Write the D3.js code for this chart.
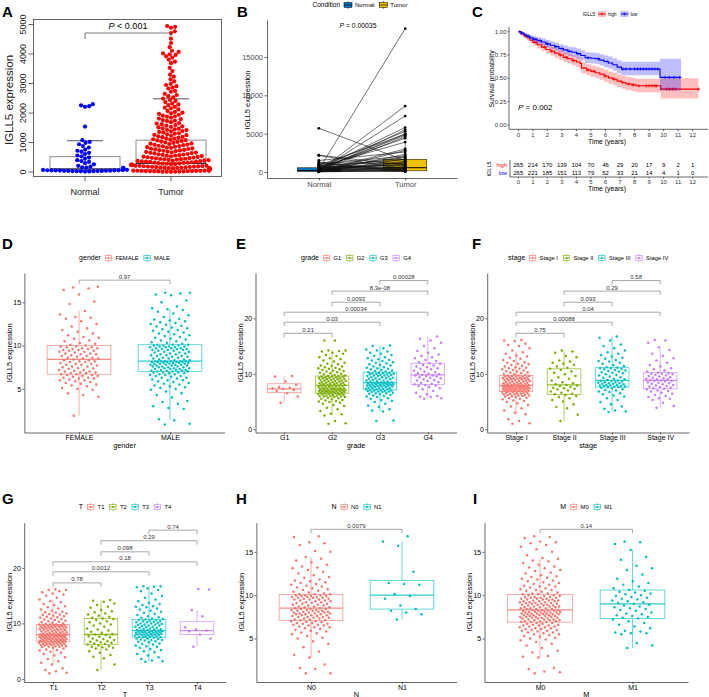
<!DOCTYPE html>
<html><head><meta charset="utf-8">
<script src="https://cdn.jsdelivr.net/npm/d3@7"></script>
<style>body{margin:0;background:#fff}</style>
</head><body>
<svg id="c" width="709" height="697"></svg>
<script>
// ---------------- DATA ----------------
// Panel A
const aCats = ["Normal","Tumor"];
const aTicks = [0,1000,2000,3000,4000,5000];
const aNormal = [2300,2260,2230,2210,1540,1080,1020,990,940,880,830,760,720,690,650,610,560,530,490,450,400,370,340,300,260,210,180,160,150,140,130,120,110,105,100,95,90,85,80,75,70,65,60,58,55,52,50,48,45,42,40,38,35,32,30,28,25,22,20,15];
const aTumor = [4950,4920,4890,4770,4710,4520,4370,4230,4110,4070,4020,3990,3970,3920,3880,3810,3740,3690,3530,3420,3300,3230,3140,3070,2990,2950,2910,2860,2830,2750,2720,2650,2610,2570,2530,2490,2440,2410,2370,2320,2290,2270,2210,2180,2160,2120,2070,2040,2010,1990,1970,1940,1910,1890,1880,1840,1810,1790,1760,1740,1730,1690,1660,1640,1620,1590,1570,1550,1530,1510,1480,1470,1450,1430,1420,1390,1380,1360,1340,1310,1300,1280,1260,1250,1230,1210,1190,1180,1160,1140,1130,1110,1090,1080,1070,1050,1030,1020,1000,990,970,960,950,930,920,910,890,880,870,860,840,830,820,800,790,780,770,750,740,730,720,710,690,680,670,660,650,640,630,610,600,590,580,570,560,550,540,530,520,510,500,490,480,470,460,450,440,435,430,420,410,400,395,390,380,370,360,355,350,340,330,320,315,310,300,290,285,280,270,260,255,250,240,235,230,220,215,210,200,195,190,185,180,175,170,165,160,155,150,145,140,135,130,125,120,115,110,105,100,95,90,88,85,82,80,78,75,72,70,68,65,62,60,58,55,52,50,48,45,42,40,38,35,32,30,28,25,22,20,18,15,12,10,8,5];
const aBoxNormal = [50,100,520,1060];   // q1, median, q3, whisker cap
const aBoxTumor = [80,300,1080,2480];

// Panel B (paired)
const bCats = ["Normal","Tumor"];
const bTicks = [0,5000,10000,15000];
const bNormal = [300,150,5700,200,400,100,600,250,900,350,120,500,2200,2150,700,180,80,1500,1200,60,1000,450,300,50,800,220,130,90,400,650,1100,40,250,700,30,350,560,160,900,70,20,480,1300,110,600];
const bTumor  = [18700,8600,1500,7300,5800,5500,5300,5000,4900,4800,4600,4400,900,400,3900,3000,2800,2600,1100,2300,2100,2000,1900,1700,1600,1400,1300,1200,1000,800,300,700,600,500,450,400,350,300,200,250,150,100,80,60,900];
const bBoxNormal = [0,60,200,550,1300];
const bBoxTumor = [0,150,560,1660,3900];

// Panel C (Kaplan-Meier)
const cTimes = [0,1,2,3,4,5,6,7,8,9,10,11,12];
const cYTicks = [0,0.25,0.5,0.75,1];
const cHighT = [0,0.2,0.4,0.6,0.8,1.0,1.3,1.6,1.9,2.2,2.5,2.8,3.1,3.4,3.7,4.0,4.25,4.35,4.7,5.0,5.3,5.6,5.9,6.2,6.5,6.8,7.1,7.4,7.8,8.1,9.8,12.4];
const cHighS = [1,0.975,0.955,0.935,0.91,0.886,0.86,0.835,0.81,0.79,0.77,0.75,0.725,0.71,0.69,0.675,0.66,0.61,0.59,0.575,0.56,0.545,0.525,0.505,0.49,0.47,0.455,0.44,0.43,0.42,0.385,0.385];
const cHighLo = [1,0.956,0.93,0.905,0.877,0.85,0.82,0.793,0.766,0.744,0.722,0.7,0.674,0.658,0.637,0.62,0.604,0.553,0.532,0.516,0.5,0.484,0.463,0.442,0.426,0.405,0.389,0.373,0.362,0.35,0.285,0.285];
const cHighHi = [1,0.994,0.98,0.965,0.944,0.923,0.9,0.877,0.855,0.836,0.818,0.8,0.777,0.764,0.745,0.732,0.718,0.67,0.651,0.637,0.624,0.61,0.592,0.573,0.56,0.54,0.527,0.514,0.505,0.497,0.5,0.5];
const cLowT = [0,0.2,0.4,0.6,0.8,1.0,1.3,1.6,1.9,2.2,2.5,2.8,3.1,3.4,3.7,4.0,4.3,4.6,5.0,5.3,5.6,5.9,6.2,6.5,6.8,7.1,9.75,11.2];
const cLowS = [1,0.985,0.965,0.95,0.935,0.92,0.905,0.89,0.87,0.855,0.84,0.82,0.805,0.79,0.78,0.765,0.745,0.72,0.715,0.71,0.695,0.68,0.665,0.645,0.62,0.60,0.51,0.51];
const cLowLo = [1,0.97,0.944,0.926,0.908,0.89,0.872,0.855,0.832,0.815,0.798,0.776,0.759,0.742,0.731,0.714,0.692,0.665,0.659,0.653,0.637,0.62,0.603,0.581,0.554,0.532,0.37,0.37];
const cLowHi = [1,1,0.987,0.975,0.963,0.951,0.94,0.927,0.91,0.897,0.884,0.866,0.853,0.84,0.832,0.82,0.802,0.78,0.776,0.772,0.759,0.746,0.733,0.716,0.694,0.677,0.71,0.71];
const cCensorHigh = [0.1,0.5,1.2,1.8,2.3,2.9,3.3,3.8,4.8,5.2,6.0,6.6,7.2,7.6,7.9,8.3,8.8,9.0,9.2,9.4,9.5,10.2,10.4,10.6,10.8,12.4];
const cCensorLow = [0.2,0.7,1.1,1.5,2.0,2.6,3.0,3.5,4.1,4.8,5.5,6.1,7.2,7.4,7.7,8.0,8.2,8.4,8.6,8.8,9.0,9.2,9.4,9.6,10.1,10.4,10.7,11.1];
const cRiskHigh = [265,214,170,139,104,70,46,29,20,17,9,2,1];
const cRiskLow = [265,221,185,151,113,79,52,33,21,14,4,1,0];

// Panel D (gender)
const dCats = ["FEMALE","MALE"];
const dTicks = [5,10,15];
const dFemale = [1.9,4.1,4.3,4.5,4.9,5.0,5.1,5.3,5.4,5.5,5.6,5.7,5.8,5.9,6.0,6.0,6.1,6.2,6.2,6.3,6.3,6.4,6.5,6.5,6.6,6.6,6.7,6.7,6.8,6.8,6.9,6.9,7.0,7.0,7.1,7.2,7.2,7.3,7.4,7.4,7.5,7.6,7.6,7.7,7.8,7.8,7.9,7.9,8.0,8.1,8.1,8.2,8.2,8.3,8.3,8.4,8.5,8.5,8.6,8.6,8.7,8.8,8.8,8.9,9.0,9.0,9.1,9.1,9.2,9.3,9.3,9.4,9.4,9.5,9.5,9.6,9.6,9.7,9.7,9.8,9.8,9.9,9.9,10.0,10.1,10.2,10.3,10.5,10.6,10.8,10.9,11.0,11.2,11.4,11.6,11.8,12.0,12.2,12.5,12.8,13.1,13.2,13.3,13.6,14.0,14.8,15.1,15.9,16.4,16.6,16.7,16.8];
const dMale = [0.9,1.0,1.4,1.5,2.7,2.8,3.0,3.3,3.5,3.6,4.0,4.3,4.5,4.7,4.9,5.0,5.1,5.2,5.3,5.4,5.5,5.6,5.7,5.8,5.9,6.0,6.0,6.1,6.2,6.3,6.3,6.4,6.5,6.5,6.6,6.6,6.7,6.7,6.8,6.8,6.9,6.9,6.9,7.0,7.0,7.0,7.1,7.1,7.1,7.2,7.2,7.2,7.3,7.3,7.3,7.4,7.4,7.4,7.5,7.5,7.5,7.6,7.6,7.6,7.7,7.7,7.7,7.8,7.8,7.8,7.8,7.9,7.9,7.9,7.9,8.0,8.0,8.0,8.0,8.1,8.1,8.1,8.1,8.1,8.2,8.2,8.2,8.2,8.2,8.2,8.3,8.3,8.4,8.4,8.5,8.5,8.6,8.6,8.7,8.7,8.8,8.8,8.9,8.9,9.0,9.0,9.1,9.1,9.2,9.2,9.3,9.3,9.4,9.4,9.5,9.5,9.5,9.6,9.6,9.6,9.7,9.7,9.7,9.8,9.8,9.8,9.9,9.9,9.9,10.0,10.0,10.0,10.1,10.1,10.1,10.2,10.3,10.4,10.5,10.6,10.7,10.8,10.9,11.0,11.1,11.2,11.3,11.4,11.5,11.6,11.7,11.8,11.9,12.0,12.1,12.2,12.3,12.4,12.5,12.6,12.7,12.8,12.9,13.0,13.1,13.3,13.5,13.7,13.9,14.1,14.2,14.3,14.5,15.0,15.2,15.8,15.9,16.0,16.1,16.1];
const dStats = [[1.9,6.7,8.4,10.0,14.0],[1.4,7.0,8.2,10.1,14.2]];

// Panel E (grade)
const eCats = ["G1","G2","G3","G4"];
const eTicks = [0,10,20];
const eG1 = [4.8,5.9,6.5,6.9,7.1,7.3,7.4,7.5,7.6,8.0,8.6,9.5,9.6];
const eG2 = [1.0,1.1,1.5,2.5,2.7,2.8,3.3,3.6,3.9,4.2,4.4,4.6,4.8,4.9,5.0,5.1,5.2,5.3,5.4,5.5,5.6,5.7,5.8,5.8,5.9,5.9,6.0,6.0,6.1,6.1,6.2,6.2,6.3,6.3,6.4,6.4,6.5,6.5,6.5,6.6,6.6,6.6,6.7,6.7,6.7,6.8,6.8,6.8,6.9,6.9,6.9,7.0,7.0,7.0,7.1,7.1,7.1,7.2,7.2,7.2,7.3,7.3,7.3,7.4,7.4,7.4,7.5,7.5,7.6,7.6,7.7,7.7,7.8,7.8,7.9,7.9,8.0,8.0,8.1,8.1,8.2,8.2,8.3,8.3,8.4,8.4,8.5,8.5,8.6,8.6,8.7,8.7,8.8,8.8,8.9,8.9,9.0,9.0,9.1,9.1,9.2,9.2,9.3,9.3,9.4,9.4,9.5,9.5,9.5,9.6,9.6,9.7,9.8,9.9,10.0,10.1,10.2,10.3,10.4,10.5,10.6,10.7,10.8,10.9,11.0,11.1,11.2,11.3,11.4,11.5,11.7,11.8,12.0,12.2,12.4,12.6,12.8,13.0,13.2,13.4,13.6,13.8,14.0,14.1,14.2,14.2,16.0,16.0];
const eG3 = [1.5,1.6,3.2,3.4,3.6,4.0,4.3,4.6,4.9,5.1,5.3,5.5,5.6,5.8,5.9,6.0,6.1,6.2,6.3,6.4,6.5,6.5,6.6,6.7,6.7,6.8,6.8,6.9,6.9,7.0,7.0,7.1,7.1,7.2,7.2,7.3,7.3,7.4,7.4,7.5,7.5,7.6,7.6,7.7,7.7,7.7,7.8,7.8,7.9,7.9,7.9,8.0,8.0,8.0,8.1,8.1,8.1,8.2,8.2,8.2,8.3,8.3,8.4,8.4,8.5,8.5,8.6,8.6,8.7,8.8,8.8,8.9,9.0,9.0,9.1,9.2,9.2,9.3,9.4,9.4,9.5,9.6,9.6,9.7,9.7,9.8,9.8,9.9,9.9,10.0,10.0,10.1,10.1,10.2,10.2,10.3,10.4,10.5,10.6,10.7,10.8,10.9,11.0,11.1,11.2,11.3,11.5,11.6,11.7,11.9,12.0,12.1,12.3,12.4,12.5,12.6,12.8,13.0,13.2,13.4,13.6,13.8,14.0,14.2,14.4,14.6,15.0,15.1];
const eG4 = [5.5,5.6,5.8,5.9,6.0,6.3,6.6,6.9,7.2,7.4,7.6,7.8,7.9,8.0,8.1,8.2,8.4,8.5,8.7,8.8,8.9,9.0,9.2,9.3,9.4,9.5,9.6,9.7,9.7,9.8,9.9,10.0,10.1,10.3,10.4,10.6,10.8,10.9,11.0,11.2,11.3,11.5,11.6,11.8,11.9,12.1,12.3,12.5,12.8,13.0,13.2,13.5,13.8,14.1,14.6,15.0,15.6,16.0,16.3,16.7];
const eStats = [[4.9,6.6,7.3,8.2,9.6],[2.5,6.5,7.9,9.6,14.2],[3.2,7.1,8.4,10.3,15.1],[5.5,8.1,9.8,11.9,16.7]];
const eP = ["0.21","0.03","0.00034","0.0093","8.3e-08","0.00028"];

// Panel F (stage)
const fCats = ["Stage I","Stage II","Stage III","Stage IV"];
const fTicks = [0,10,20];
const fS1 = [1.0,1.1,1.5,1.8,2.7,3.0,3.4,3.8,4.1,4.4,4.7,4.9,5.1,5.2,5.4,5.5,5.6,5.7,5.8,5.9,6.0,6.0,6.1,6.1,6.2,6.2,6.3,6.3,6.4,6.4,6.5,6.5,6.6,6.6,6.7,6.7,6.8,6.8,6.8,6.9,6.9,6.9,7.0,7.0,7.0,7.1,7.1,7.1,7.2,7.2,7.2,7.3,7.3,7.3,7.4,7.4,7.4,7.5,7.5,7.5,7.5,7.6,7.6,7.6,7.7,7.7,7.7,7.7,7.8,7.8,7.8,7.8,7.9,7.9,7.9,7.9,8.0,8.0,8.1,8.1,8.2,8.2,8.3,8.3,8.4,8.4,8.5,8.5,8.6,8.6,8.7,8.7,8.8,8.8,8.9,8.9,9.0,9.0,9.0,9.1,9.1,9.2,9.2,9.3,9.3,9.4,9.4,9.5,9.5,9.5,9.6,9.6,9.7,9.7,9.8,9.9,10.0,10.1,10.2,10.3,10.4,10.5,10.6,10.7,10.8,10.9,11.0,11.1,11.2,11.3,11.4,11.6,11.7,11.8,12.0,12.1,12.3,12.5,12.7,12.9,13.1,13.3,13.6,13.9,14.2,14.6,15.0,15.2,15.4,15.9,16.0,16.1];
const fS2 = [1.5,2.6,3.8,4.0,4.5,5.0,5.3,5.6,5.8,6.0,6.2,6.3,6.4,6.6,6.8,7.0,7.2,7.3,7.4,7.5,7.6,7.8,7.9,8.0,8.1,8.3,8.5,8.8,9.1,9.4,9.6,9.9,10.2,10.4,10.7,10.9,11.1,11.3,11.6,11.8,12.0,12.2,12.4,13.0,13.2,13.8,14.0,14.2];
const fS3 = [3.1,3.2,3.4,3.7,4.1,4.5,4.9,5.3,5.6,5.9,6.1,6.3,6.5,6.7,6.8,7.0,7.1,7.2,7.4,7.5,7.6,7.6,7.7,7.7,7.8,7.8,7.9,7.9,8.0,8.0,8.1,8.2,8.2,8.3,8.3,8.4,8.5,8.5,8.6,8.7,8.7,8.8,8.9,9.0,9.1,9.3,9.4,9.5,9.7,9.8,9.9,10.1,10.2,10.3,10.4,10.5,10.6,10.7,10.8,10.9,11.0,11.0,11.1,11.2,11.4,11.6,11.8,12.0,12.2,12.3,12.5,12.7,12.9,13.1,13.4,13.6,13.9,14.2,14.6,15.0,15.3,16.0,16.5,16.7];
const fS4 = [3.9,4.2,4.8,5.3,5.5,5.6,5.8,6.0,6.2,6.4,6.6,6.8,6.9,7.0,7.2,7.3,7.4,7.5,7.6,7.7,7.8,7.9,8.0,8.1,8.2,8.3,8.4,8.5,8.6,8.7,8.7,8.8,8.9,9.0,9.0,9.1,9.2,9.3,9.4,9.5,9.6,9.7,9.8,9.9,10.0,10.0,10.1,10.2,10.4,10.6,10.8,11.0,11.3,11.6,12.0,12.4,12.8,13.2,13.6,14.3,14.8,15.6,16.0,16.1];
const fStats = [[2.7,6.8,7.9,9.7,14.0],[1.5,6.3,8.0,10.9,14.2],[3.1,7.6,8.8,11.1,16.7],[3.9,7.3,8.8,10.2,14.5]];
const fP = ["0.75","0.00088","0.04","0.093","0.29","0.58"];

// Panel G (T)
const gCats = ["T1","T2","T3","T4"];
const gTicks = [0,10,20];
const gT1 = [1.0,1.1,1.4,1.6,1.9,2.6,2.9,3.2,3.6,3.9,4.2,4.5,4.7,4.9,5.1,5.2,5.3,5.5,5.6,5.7,5.8,5.8,5.9,5.9,6.0,6.0,6.1,6.1,6.2,6.2,6.3,6.3,6.3,6.4,6.4,6.5,6.5,6.5,6.6,6.6,6.7,6.7,6.7,6.8,6.8,6.8,6.9,6.9,6.9,7.0,7.0,7.0,7.1,7.1,7.1,7.2,7.2,7.2,7.3,7.3,7.3,7.4,7.4,7.4,7.5,7.5,7.5,7.6,7.6,7.6,7.7,7.7,7.7,7.8,7.8,7.8,7.8,7.9,7.9,7.9,7.9,8.0,8.0,8.0,8.1,8.1,8.2,8.2,8.3,8.3,8.4,8.4,8.5,8.5,8.6,8.6,8.7,8.7,8.8,8.8,8.9,8.9,9.0,9.0,9.0,9.1,9.1,9.2,9.2,9.3,9.3,9.3,9.4,9.4,9.5,9.5,9.5,9.6,9.6,9.6,9.7,9.7,9.7,9.8,9.8,9.8,9.9,10.0,10.1,10.2,10.3,10.4,10.5,10.6,10.7,10.8,10.9,11.0,11.1,11.2,11.3,11.4,11.5,11.6,11.7,11.8,11.9,12.0,12.1,12.3,12.5,12.7,12.9,13.1,13.3,13.5,13.8,14.0,14.3,14.6,15.0,15.2,15.4,15.6,15.8,16.0,16.0,16.1];
const gT2 = [1.6,2.6,3.7,4.0,4.3,4.7,5.0,5.3,5.5,5.6,5.7,5.8,5.9,6.0,6.2,6.3,6.4,6.5,6.6,6.7,6.8,6.9,7.0,7.2,7.3,7.5,7.6,7.7,7.9,8.0,8.1,8.3,8.5,8.7,8.9,9.1,9.4,9.6,9.8,10.0,10.2,10.4,10.6,10.8,10.9,11.0,11.2,11.4,11.6,11.8,12.0,12.2,12.4,12.8,13.0,13.3,13.6,13.9,14.1,14.2];
const gT3 = [3.1,3.2,3.3,3.6,3.9,4.2,4.5,4.8,5.0,5.2,5.4,5.6,5.8,5.9,6.0,6.2,6.3,6.4,6.6,6.7,6.8,6.9,7.0,7.0,7.1,7.2,7.3,7.3,7.4,7.5,7.5,7.6,7.6,7.7,7.7,7.8,7.8,7.9,7.9,7.9,8.0,8.0,8.0,8.1,8.1,8.2,8.2,8.2,8.3,8.3,8.4,8.4,8.4,8.5,8.5,8.5,8.6,8.6,8.7,8.7,8.8,8.8,8.9,9.0,9.0,9.1,9.2,9.2,9.3,9.4,9.4,9.5,9.6,9.6,9.7,9.8,9.8,9.9,10.0,10.0,10.1,10.2,10.2,10.3,10.4,10.4,10.5,10.6,10.6,10.7,10.8,10.9,11.0,11.1,11.3,11.5,11.7,11.9,12.1,12.3,12.5,12.7,12.9,13.0,13.1,13.3,13.5,13.7,14.0,14.3,14.6,15.0,15.4,15.8,16.0,16.3,16.5,16.6,16.7,16.7];
const gT4 = [5.8,7.3,8.0,8.6,8.7,8.9,9.3,11.3,12.4,16.1,16.2];
const gStats = [[2.6,6.7,8.0,9.8,14.3],[1.6,6.2,8.0,10.9,14.2],[3.1,7.5,8.7,10.7,16.7],[5.8,8.0,8.7,10.3,12.4]];
const gP = ["0.78","0.0012","0.18","0.098","0.29","0.74"];

// Panel H (N)
const hCats = ["N0","N1"];
const hTicks = [5,10,15];
const hN0 = [1.0,1.0,1.5,1.6,2.0,2.8,3.1,3.5,4.0,4.4,4.7,5.0,5.1,5.3,5.5,5.6,5.7,5.8,5.9,6.0,6.1,6.2,6.3,6.3,6.4,6.5,6.5,6.6,6.6,6.7,6.7,6.8,6.8,6.9,6.9,7.0,7.0,7.1,7.1,7.2,7.2,7.3,7.3,7.4,7.4,7.5,7.5,7.5,7.6,7.6,7.7,7.7,7.7,7.8,7.8,7.8,7.9,7.9,7.9,8.0,8.0,8.0,8.1,8.1,8.1,8.2,8.2,8.2,8.3,8.3,8.3,8.4,8.4,8.4,8.5,8.5,8.6,8.6,8.7,8.7,8.8,8.8,8.9,8.9,9.0,9.0,9.1,9.1,9.2,9.2,9.3,9.3,9.4,9.4,9.5,9.5,9.5,9.6,9.6,9.7,9.7,9.7,9.8,9.8,9.8,9.9,9.9,9.9,10.0,10.0,10.0,10.1,10.1,10.1,10.2,10.3,10.4,10.5,10.6,10.7,10.8,10.9,11.0,11.1,11.2,11.3,11.4,11.5,11.6,11.7,11.8,12.0,12.1,12.3,12.5,12.7,12.9,13.1,13.2,13.3,13.5,13.8,14.0,14.2,14.4,15.0,15.1,15.8,16.0,16.1,16.7,16.8];
const hN1 = [7.2,7.8,8.0,8.2,8.4,8.8,9.6,9.9,10.1,11.2,11.3,11.4,12.7,15.7,16.2,16.8];
const hStats = [[2.8,7.1,8.5,10.1,14.4],[7.2,8.4,10.0,11.7,16.2]];

// Panel I (M)
const iCats = ["M0","M1"];
const iTicks = [5,10,15];
const iM0 = [1.0,1.1,1.2,1.5,1.6,2.8,2.9,3.0,3.4,3.6,3.9,4.2,4.4,4.6,4.8,4.9,5.0,5.1,5.2,5.3,5.4,5.5,5.5,5.6,5.7,5.7,5.8,5.9,5.9,6.0,6.0,6.1,6.1,6.2,6.2,6.3,6.3,6.4,6.4,6.5,6.5,6.5,6.6,6.6,6.7,6.7,6.8,6.8,6.9,6.9,6.9,7.0,7.0,7.0,7.1,7.1,7.1,7.2,7.2,7.2,7.3,7.3,7.3,7.4,7.4,7.4,7.5,7.5,7.5,7.5,7.6,7.6,7.6,7.7,7.7,7.7,7.7,7.8,7.8,7.8,7.8,7.9,7.9,7.9,7.9,8.0,8.0,8.0,8.0,8.1,8.1,8.1,8.1,8.2,8.2,8.2,8.2,8.3,8.3,8.3,8.4,8.4,8.4,8.5,8.5,8.5,8.6,8.6,8.6,8.7,8.7,8.7,8.8,8.8,8.8,8.9,8.9,8.9,9.0,9.0,9.0,9.1,9.1,9.1,9.2,9.2,9.2,9.3,9.3,9.3,9.4,9.4,9.4,9.5,9.5,9.5,9.6,9.6,9.6,9.7,9.7,9.7,9.8,9.8,9.8,9.9,9.9,10.0,10.0,10.1,10.1,10.2,10.2,10.3,10.4,10.5,10.6,10.6,10.7,10.8,10.9,11.0,11.0,11.1,11.2,11.3,11.4,11.5,11.6,11.7,11.8,11.9,12.0,12.1,12.2,12.3,12.5,12.6,12.8,12.9,13.1,13.2,13.3,13.5,13.7,13.9,14.0,14.2,14.3,14.6,15.0,15.3,15.6,15.8,16.0,16.1,16.2,16.6,16.7,16.8];
const iM1 = [3.9,4.2,4.5,5.5,5.6,5.6,5.7,5.8,5.9,6.2,6.4,6.6,6.8,7.0,7.2,7.3,7.4,7.5,7.6,7.7,7.8,7.9,8.0,8.2,8.3,8.4,8.5,8.6,8.7,8.8,8.9,9.0,9.1,9.2,9.3,9.4,9.5,9.6,9.7,9.8,9.9,10.0,10.1,10.2,10.3,10.4,10.5,10.6,10.8,11.0,11.2,11.4,11.6,11.9,12.4,12.9,13.1,13.4,14.1,14.4,15.2,15.9,16.1,16.2];
const iStats = [[2.8,6.9,8.3,10.1,14.2],[3.9,7.3,9.0,10.6,15.2]];

const pal2 = ["#F8766D","#00BFC4"];
const pal4 = ["#F8766D","#7CAE00","#00BFC4","#C77CFF"];

// ---------------- DRAW ----------------
const FONT = "'Liberation Sans', Arial, Helvetica, sans-serif";
const svg = d3.select("#c");
svg.append("rect").attr("width",709).attr("height",697).attr("fill","#fff");
const root = svg.append("g").attr("font-family", FONT);

function txt(g,x,y,s,fs,o={}){
  const t=g.append("text").attr("x",x).attr("y",y).attr("font-size",fs).text(s);
  if(o.anchor) t.attr("text-anchor",o.anchor);
  t.attr("fill",o.fill||"#000");
  if(o.weight) t.attr("font-weight",o.weight);
  if(o.rot!==undefined){ t.attr("x",0).attr("y",0).attr("transform",`translate(${x},${y}) rotate(${o.rot})`); }
  return t;
}
function pTxt(g,x,y,rest,fs,anchor){
  const t=g.append("text").attr("x",x).attr("y",y).attr("font-size",fs).attr("text-anchor",anchor||"start").attr("fill","#000");
  t.append("tspan").attr("font-style","italic").text("P");
  t.append("tspan").text(rest);
  return t;
}
function letter(x,y,s){ txt(root,x,y,s,15,{weight:"bold"}); }
function styleAxis(ax,fs,col){
  ax.attr("font-family",FONT).attr("font-size",fs);
  ax.selectAll("path,line").attr("stroke","#000").attr("stroke-width",0.6);
  ax.selectAll("text").attr("fill",col);
}
function legend(g,cx,cy,title,labels,keyFn,fsT,fsL,keyW,gapT,gapK,gapL){
  const lg=g.append("g");
  let x=0;
  const t=lg.append("text").attr("x",x).attr("y",cy).attr("dy","0.35em").attr("font-size",fsT).attr("fill","#000").text(title);
  x+=t.node().getComputedTextLength()+gapT;
  labels.forEach((lab,i)=>{
    keyFn(lg,x,cy,i); x+=keyW+gapK;
    const tt=lg.append("text").attr("x",x).attr("y",cy).attr("dy","0.35em").attr("font-size",fsL).attr("fill","#000").text(lab);
    x+=tt.node().getComputedTextLength()+gapL;
  });
  x-=gapL;
  lg.attr("transform",`translate(${cx-x/2},0)`);
}

// ===== Panel A =====
(function(){
  const g=root.append("g");
  letter(2,17,"A");
  const x=d3.scalePoint().domain(aCats).range([85,171]);
  const y=d3.scaleLinear().domain([0,5000]).range([172,24.5]);
  const boxes=[aBoxNormal,aBoxTumor];
  boxes.forEach((b,i)=>{
    const cx=x(aCats[i]), hw=35;
    g.append("rect").attr("x",cx-hw).attr("y",y(b[2])).attr("width",2*hw).attr("height",y(b[0])-y(b[2]))
      .attr("fill","none").attr("stroke","#8c8c8c").attr("stroke-width",1);
    g.append("line").attr("x1",cx-hw).attr("x2",cx+hw).attr("y1",y(b[1])).attr("y2",y(b[1])).attr("stroke","#333").attr("stroke-width",1.5);
    g.append("line").attr("x1",cx-18).attr("x2",cx+18).attr("y1",y(b[3])).attr("y2",y(b[3])).attr("stroke","#555").attr("stroke-width",1);
  });
  function swarm(vals,cx,col,r,maxW){
    const pts=vals.map(v=>({v,y:y(v)})).sort((a,b)=>a.v-b.v);
    const placed=[];
    pts.forEach(p=>{
      const near=placed.filter(q=>Math.abs(q.y-p.y)<2*r);
      const cands=[0];
      near.forEach(q=>{const dy=q.y-p.y; const dx=Math.sqrt(4*r*r-dy*dy); cands.push(q.dx+dx,q.dx-dx);});
      cands.sort((a,b)=>Math.abs(a)-Math.abs(b));
      let c=cands.find(c=>near.every(q=>(q.dx-c)*(q.dx-c)+(q.y-p.y)*(q.y-p.y)>=4*r*r-1e-6));
      if(c===undefined) c=0;
      if(Math.abs(c)>maxW){ const w=2*maxW; c=((c+maxW)%w+w)%w-maxW; }
      p.dx=c; placed.push(p);
    });
    g.append("g").selectAll("circle").data(placed).join("circle")
      .attr("cx",d=>cx+d.dx).attr("cy",d=>d.y).attr("r",r).attr("fill",col);
  }
  swarm(aNormal,x("Normal"),"#0000FF",2.1,42);
  swarm(aTumor,x("Tumor"),"#FF0000",2.1,40);
  g.append("rect").attr("x",33.5).attr("y",19.5).attr("width",188).attr("height",157).attr("fill","none").attr("stroke","#555").attr("stroke-width",0.9);
  aTicks.forEach(v=>{
    g.append("line").attr("x1",28.5).attr("x2",33.5).attr("y1",y(v)).attr("y2",y(v)).attr("stroke","#555").attr("stroke-width",0.9);
    txt(g,26,y(v),String(v),9,{anchor:"middle",rot:-90,fill:"#222"});
  });
  aCats.forEach(c=>{
    g.append("line").attr("x1",x(c)).attr("x2",x(c)).attr("y1",176.5).attr("y2",181).attr("stroke","#555").attr("stroke-width",0.9);
    txt(g,x(c),195,c,9,{anchor:"middle",fill:"#222"});
  });
  txt(g,13,100,"IGLL5 expression",11.5,{anchor:"middle",rot:-90,fill:"#222"});
  g.append("path").attr("d",`M${x("Normal")},${39}V33H${x("Tumor")}V36`).attr("fill","none").attr("stroke","#555").attr("stroke-width",0.8);
  pTxt(g,128,29," < 0.001",9,"middle");
})();

// ===== Panel B =====
(function(){
  const g=root.append("g");
  letter(237,17,"B");
  const x=d3.scalePoint().domain(bCats).range([267,457]).padding(0.6);
  const y=d3.scaleLinear().domain([-783,19826]).range([178,20]);
  const hw=0.25*x.step();
  [[bBoxNormal,"#0073C2"],[bBoxTumor,"#EFC000"]].forEach(([b,col],i)=>{
    const cx=x(bCats[i]);
    g.append("line").attr("x1",cx).attr("x2",cx).attr("y1",y(b[0])).attr("y2",y(b[4])).attr("stroke","#000").attr("stroke-width",0.5);
    g.append("rect").attr("x",cx-hw).attr("y",y(b[3])).attr("width",2*hw).attr("height",y(b[1])-y(b[3])).attr("fill",col).attr("stroke","#000").attr("stroke-width",0.5);
    g.append("line").attr("x1",cx-hw).attr("x2",cx+hw).attr("y1",y(b[2])).attr("y2",y(b[2])).attr("stroke","#000").attr("stroke-width",1);
  });
  const xn=x("Normal"), xt=x("Tumor");
  bNormal.forEach((v,i)=>{
    g.append("line").attr("x1",xn).attr("y1",y(v)).attr("x2",xt).attr("y2",y(bTumor[i])).attr("stroke","#111").attr("stroke-width",0.6);
  });
  bNormal.forEach((v,i)=>{
    g.append("circle").attr("cx",xn).attr("cy",y(v)).attr("r",1.4).attr("fill","#000");
    g.append("circle").attr("cx",xt).attr("cy",y(bTumor[i])).attr("r",1.4).attr("fill","#000");
  });
  const ya=g.append("g").attr("transform","translate(267,0)").call(d3.axisLeft(y).tickValues(bTicks).tickFormat(d3.format("d")).tickSize(2.5).tickPadding(1.5).tickSizeOuter(0));
  styleAxis(ya,7.5,"#4d4d4d");
  const xa=g.append("g").attr("transform","translate(0,178)").call(d3.axisBottom(x).tickSize(2.5).tickPadding(1.5).tickSizeOuter(0));
  styleAxis(xa,7.5,"#4d4d4d");
  txt(g,250,100,"IGLL5 expression",7.5,{anchor:"middle",rot:-90});
  pTxt(g,358,27.5," = 0.00035",6.8,"middle");
  legend(g,360,5,"Condition",bCats,(lg,kx,ky,i)=>{
    const col=i===0?"#0073C2":"#EFC000";
    lg.append("line").attr("x1",kx+4).attr("x2",kx+4).attr("y1",ky-4).attr("y2",ky+4).attr("stroke","#000").attr("stroke-width",0.5);
    lg.append("rect").attr("x",kx).attr("y",ky-2.5).attr("width",8).attr("height",5).attr("fill",col).attr("stroke","#000").attr("stroke-width",0.5);
    lg.append("line").attr("x1",kx).attr("x2",kx+8).attr("y1",ky).attr("y2",ky).attr("stroke","#000").attr("stroke-width",0.6);
  },6.5,6,8,4,3,5);
})();

// ===== Panel C =====
(function(){
  const g=root.append("g");
  letter(472,17,"C");
  const x=d3.scaleLinear().domain([0,12]).range([518.3,692.7]);
  const y=d3.scaleLinear().domain([0,1]).range([125,31.7]);
  const red="#FF0000", blue="#0000FF";
  function series(T,S,Lo,Hi,col,cens){
    const rows=T.map((t,i)=>[t,S[i],Lo[i],Hi[i]]);
    g.append("path").datum(rows).attr("d",d3.area().x(d=>x(d[0])).y0(d=>y(d[2])).y1(d=>y(d[3])).curve(d3.curveStepAfter))
      .attr("fill",col).attr("fill-opacity",0.25).attr("stroke","none");
    g.append("path").datum(rows).attr("d",d3.line().x(d=>x(d[0])).y(d=>y(d[1])).curve(d3.curveStepAfter))
      .attr("fill","none").attr("stroke",col).attr("stroke-width",1.1);
    const sAt=t=>{let s=S[0];for(let i=0;i<T.length;i++){if(T[i]<=t)s=S[i];}return s;};
    cens.forEach(t=>{
      const cx=x(t), cy=y(sAt(t));
      g.append("path").attr("d",`M${cx-1.6},${cy}H${cx+1.6}M${cx},${cy-1.6}V${cy+1.6}`).attr("stroke",col).attr("stroke-width",0.8);
    });
  }
  series(cHighT,cHighS,cHighLo,cHighHi,red,cCensorHigh);
  series(cLowT,cLowS,cLowLo,cLowHi,blue,cCensorLow);
  g.append("line").attr("x1",509).attr("x2",509).attr("y1",27).attr("y2",129.3).attr("stroke","#000").attr("stroke-width",0.6);
  g.append("line").attr("x1",509).attr("x2",708).attr("y1",129.3).attr("y2",129.3).attr("stroke","#000").attr("stroke-width",0.6);
  cYTicks.forEach(v=>{
    g.append("line").attr("x1",507.5).attr("x2",509).attr("y1",y(v)).attr("y2",y(v)).attr("stroke","#000").attr("stroke-width",0.6);
    txt(g,506.5,y(v)+2,v.toFixed(2),6,{anchor:"end",fill:"#333"});
  });
  cTimes.forEach(t=>{
    g.append("line").attr("x1",x(t)).attr("x2",x(t)).attr("y1",129.3).attr("y2",131.3).attr("stroke","#000").attr("stroke-width",0.6);
    txt(g,x(t),136.5,String(t),6,{anchor:"middle",fill:"#333"});
  });
  txt(g,607,144,"Time (years)",6.8,{anchor:"middle"});
  txt(g,493.5,79,"Survival probability",6.8,{anchor:"middle",rot:-90});
  pTxt(g,518,109.5," = 0.002",8,"start");
  legend(g,610,14,"IGLL5",["high","low"],(lg,kx,ky,i)=>{
    const col=i===0?red:blue;
    lg.append("rect").attr("x",kx).attr("y",ky-3).attr("width",8).attr("height",6).attr("fill",col).attr("fill-opacity",0.25);
    lg.append("line").attr("x1",kx).attr("x2",kx+8).attr("y1",ky).attr("y2",ky).attr("stroke",col).attr("stroke-width",0.9);
    lg.append("path").attr("d",`M${kx+2.7},${ky}H${kx+5.3}M${kx+4},${ky-1.3}V${ky+1.3}`).attr("stroke",col).attr("stroke-width",0.7);
  },4.5,4.5,8,3,2,4);
  const rows=[[cRiskHigh,"high",red,165],[cRiskLow,"low",blue,173]];
  rows.forEach(([arr,lab,col,yy])=>{
    arr.forEach((n,i)=>txt(g,x(cTimes[i]),yy+2,String(n),6,{anchor:"middle"}));
    txt(g,507,yy+2,lab,5.5,{anchor:"end",fill:col});
  });
  g.append("line").attr("x1",510).attr("x2",510).attr("y1",160).attr("y2",177).attr("stroke","#000").attr("stroke-width",0.6);
  g.append("line").attr("x1",510).attr("x2",708).attr("y1",177).attr("y2",177).attr("stroke","#000").attr("stroke-width",0.6);
  cTimes.forEach(t=>{
    g.append("line").attr("x1",x(t)).attr("x2",x(t)).attr("y1",177).attr("y2",178.5).attr("stroke","#000").attr("stroke-width",0.6);
    txt(g,x(t),184.3,String(t),6,{anchor:"middle",fill:"#333"});
  });
  txt(g,607,190.5,"Time (years)",6.8,{anchor:"middle"});
  txt(g,490.5,169,"IGLL5",5.5,{anchor:"middle",rot:-90});
})();

// ===== Box/jitter panels D-I =====
function boxPanel(o){
  const g=root.append("g");
  letter(o.lx,o.ly,o.letter);
  const x=d3.scalePoint().domain(o.cats).range([o.x0,o.x1]).padding(0.6);
  const step=x.step();
  const y=d3.scaleLinear().domain([(o.zeroPx-o.yb)/o.slope,(o.zeroPx-o.yt)/o.slope]).range([o.yb,o.yt]);
  const hw=0.35*step;
  o.cats.forEach((c,i)=>{
    const s=o.stats[i], cx=x(c), col=o.colors[i];
    const bg=g.append("g").attr("stroke",col).attr("stroke-width",0.7).attr("stroke-opacity",0.85);
    bg.append("line").attr("x1",cx).attr("x2",cx).attr("y1",y(s[0])).attr("y2",y(s[1]));
    bg.append("line").attr("x1",cx).attr("x2",cx).attr("y1",y(s[3])).attr("y2",y(s[4]));
    bg.append("rect").attr("x",cx-hw).attr("y",y(s[3])).attr("width",2*hw).attr("height",y(s[1])-y(s[3])).attr("fill","#fff");
    bg.append("line").attr("x1",cx-hw).attr("x2",cx+hw).attr("y1",y(s[2])).attr("y2",y(s[2])).attr("stroke-width",1.3);
  });
  o.data.forEach((arr,i)=>{
    const cx=x(o.cats[i]), col=o.colors[i];
    g.append("g").selectAll("circle").data(arr).join("circle")
      .attr("cx",(v,j)=>cx+(((j*0.6180339887+0.37)%1)-0.5)*2*o.jit*step)
      .attr("cy",v=>y(v)).attr("r",1.25).attr("fill",col);
  });
  o.brackets.forEach(([i,j,lab,v])=>{
    const yy=y(v), xa=x(o.cats[i]), xb=x(o.cats[j]);
    g.append("path").attr("d",`M${xa},${yy+4}V${yy}H${xb}V${yy+4}`).attr("fill","none").attr("stroke","#707070").attr("stroke-width",0.6);
    txt(g,(xa+xb)/2,yy-1.4,lab,6,{anchor:"middle",fill:"#333"});
  });
  const ya=g.append("g").attr("transform",`translate(${o.x0},0)`).call(d3.axisLeft(y).tickValues(o.ticks).tickSize(2).tickPadding(1.3).tickSizeOuter(0));
  styleAxis(ya,7,"#000");
  const xa=g.append("g").attr("transform",`translate(0,${o.yb})`).call(d3.axisBottom(x).tickSize(2).tickPadding(1).tickSizeOuter(0));
  styleAxis(xa,7,"#000");
  txt(g,o.x0-12.5,(o.yt+o.yb)/2,"IGLL5 expression",7.5,{anchor:"middle",rot:-90});
  txt(g,(o.x0+o.x1)/2,o.titleY,o.title,7.3,{anchor:"middle"});
  legend(g,(o.x0+o.x1)/2,o.legY,o.title,o.cats,(lg,kx,ky,i)=>{
    const col=o.colors[i];
    lg.append("line").attr("x1",kx+3.5).attr("x2",kx+3.5).attr("y1",ky-4).attr("y2",ky+4).attr("stroke",col).attr("stroke-width",0.6);
    lg.append("rect").attr("x",kx+0.3).attr("y",ky-2.6).attr("width",6.4).attr("height",5.2).attr("fill","#fff").attr("stroke",col).attr("stroke-width",0.6);
    lg.append("line").attr("x1",kx+0.3).attr("x2",kx+6.7).attr("y1",ky).attr("y2",ky).attr("stroke",col).attr("stroke-width",0.8);
    lg.append("circle").attr("cx",kx+3.5).attr("cy",ky).attr("r",1).attr("fill",col);
  },7,5.8,7,4,3.5,5);
}
const pairs4=[[0,1],[0,2],[0,3],[1,2],[1,3],[2,3]];
const brY4=[17.3,19.3,21.1,22.9,24.9,26.8];
const br4=lbls=>pairs4.map((p,k)=>[p[0],p[1],lbls[k],brY4[k]]);

boxPanel({letter:"D",lx:2,ly:249,cats:dCats,colors:pal2,data:[dFemale,dMale],stats:dStats,ticks:dTicks,
  x0:24.4,x1:224.6,yt:273,yb:432.5,zeroPx:432.3,slope:8.67,jit:0.22,title:"gender",titleY:447.5,legY:258,
  brackets:[[0,1,"0.97",17.55]]});
boxPanel({letter:"E",lx:236,ly:249,cats:eCats,colors:pal4,data:[eG1,eG2,eG3,eG4],stats:eStats,ticks:eTicks,
  x0:255.5,x1:456.5,yt:273,yb:432.5,zeroPx:429.3,slope:5.55,jit:0.29,title:"grade",titleY:447.5,legY:258,
  brackets:br4(eP)});
boxPanel({letter:"F",lx:472,ly:249,cats:fCats,colors:pal4,data:[fS1,fS2,fS3,fS4],stats:fStats,ticks:fTicks,
  x0:487.2,x1:689,yt:273,yb:432.5,zeroPx:429.3,slope:5.55,jit:0.29,title:"stage",titleY:447.5,legY:258,
  brackets:br4(fP)});
boxPanel({letter:"G",lx:2,ly:504,cats:gCats,colors:pal4,data:[gT1,gT2,gT3,gT4],stats:gStats,ticks:gTicks,
  x0:24.2,x1:225.8,yt:522.6,yb:682,zeroPx:678.9,slope:5.55,jit:0.29,title:"T",titleY:696.5,legY:507,
  brackets:br4(gP)});
boxPanel({letter:"H",lx:236,ly:504,cats:hCats,colors:pal2,data:[hN0,hN1],stats:hStats,ticks:hTicks,
  x0:256.4,x1:456.6,yt:522.6,yb:682,zeroPx:681.9,slope:8.67,jit:0.22,title:"N",titleY:696.5,legY:507,
  brackets:[[0,1,"0.0079",17.6]]});
boxPanel({letter:"I",lx:473,ly:504,cats:iCats,colors:pal2,data:[iM0,iM1],stats:iStats,ticks:iTicks,
  x0:484.5,x1:688,yt:522.6,yb:682,zeroPx:681.9,slope:8.67,jit:0.22,title:"M",titleY:696.5,legY:507,
  brackets:[[0,1,"0.14",17.6]]});
</script>
</body></html>
